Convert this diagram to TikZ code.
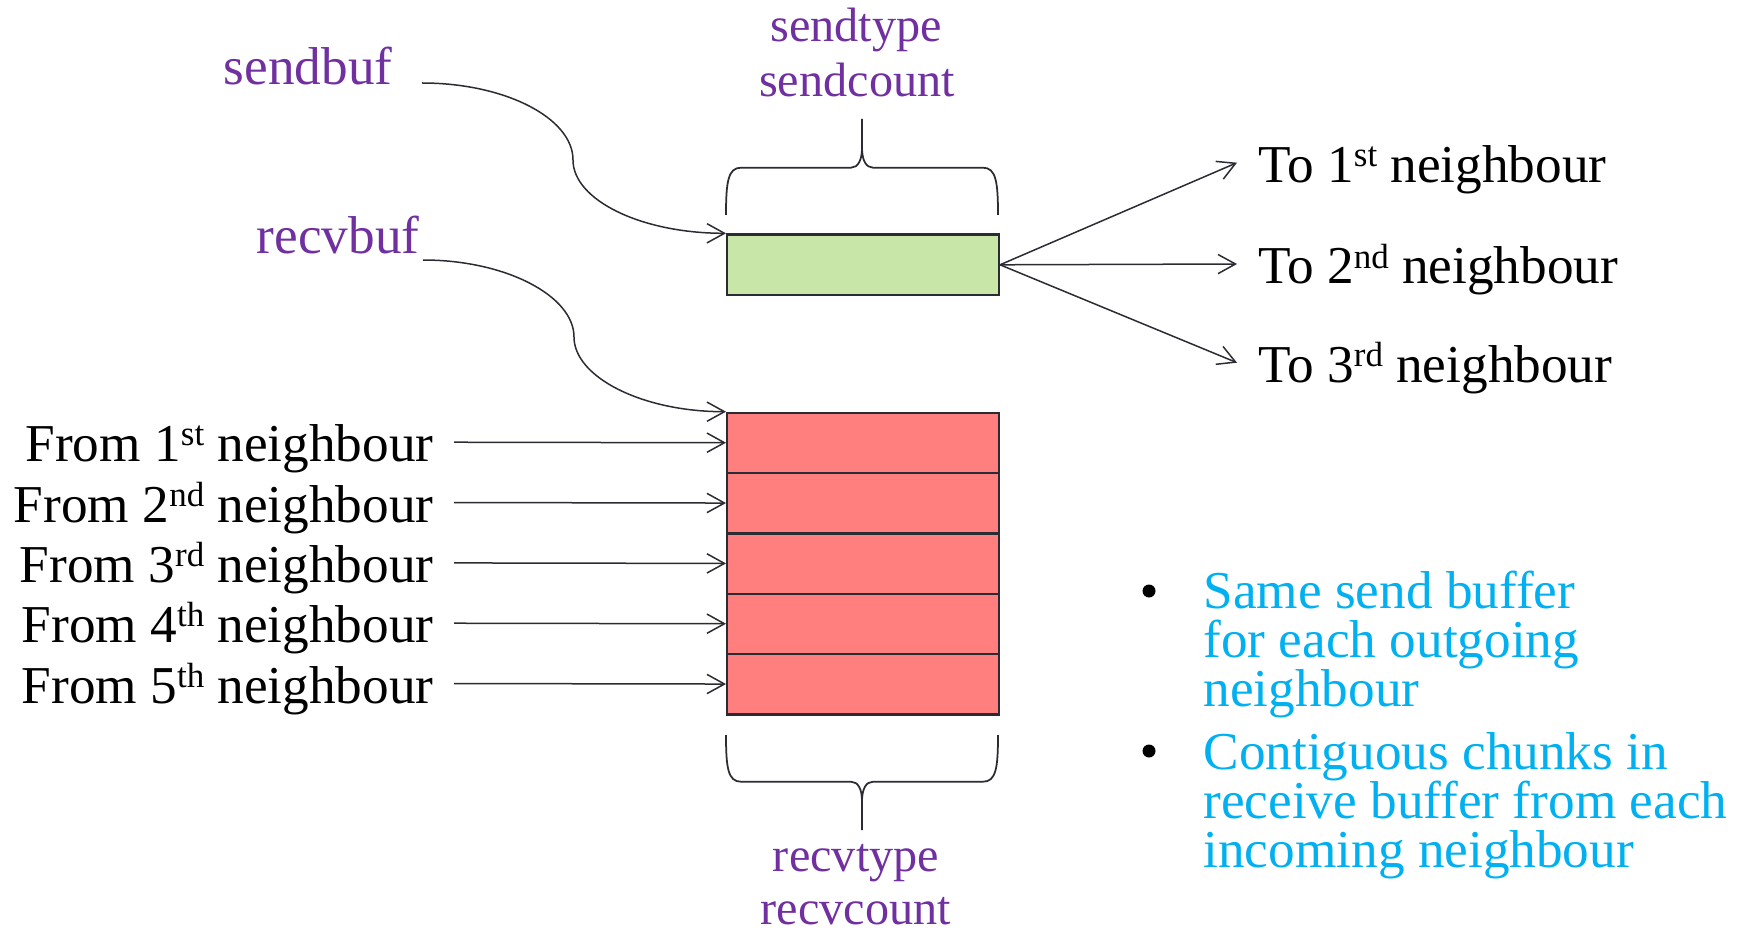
\documentclass[tikz,border=0pt]{standalone}
\usepackage{fontspec}
\setmainfont{Liberation Serif}
\usetikzlibrary{arrows.meta}
\definecolor{ink}{HTML}{2B2B33}
\definecolor{lblpurple}{HTML}{7030A0}
\definecolor{noteblue}{HTML}{00B0F0}
\definecolor{sendfill}{HTML}{C8E6A7}
\definecolor{recvfill}{HTML}{FF7F7F}
% ordinal suffix set as a raised, smaller superscript
\newcommand\supx[1]{\raisebox{0.3em}{\fontsize{14}{14}\selectfont #1}}

\begin{document}
\begin{tikzpicture}[x=0.4pt,y=-0.4pt,
  txt/.style={font=\fontsize{21.3}{22}\selectfont, inner sep=0pt},
  lbl/.style={txt, text height=18.9pt, text depth=2.9pt},
  param/.style={txt, font=\fontsize{19.3}{20}\selectfont, text=lblpurple, anchor=base},
  note/.style={txt, text=noteblue, anchor=base west},
  cell/.style={draw=ink, line width=0.9pt, fill=recvfill, anchor=north west,
    inner sep=0pt, minimum width=108.7pt, minimum height=24.13pt},
  arr/.style={draw=ink, line width=0.6pt, -{Straight Barb[length=7pt,width=7.7pt]}},
  brace/.style={draw=ink, line width=0.7pt},
  dot/.style={circle, fill=black, inner sep=0pt, minimum size=5.2pt}]
\useasboundingbox (0,0) rectangle (1744,932);

% send buffer
\node[cell, fill=sendfill, minimum height=24.3pt] (sbuf) at (726,233.3) {};

% receive buffer: one chunk per incoming neighbour
\node[cell] (r1) at (726,411.7) {};
\node[cell] (r2) at (726,472.0) {};
\node[cell] (r3) at (726,532.4) {};
\node[cell] (r4) at (726,592.7) {};
\node[cell] (r5) at (726,653.0) {};

% buffer names
\node[txt, text=lblpurple, anchor=base east] (sendbuf) at (393,84.5) {sendbuf};
\node[txt, text=lblpurple, anchor=base east] (recvbuf) at (420,253.5) {recvbuf};
\coordinate (sbfrom) at (422,83);
\coordinate (rbfrom) at (423,260);
\draw[arr] (sbfrom) .. controls (505,83) and (573,118) .. (573,160)
  .. controls (573,200) and (641,233.3) .. (sbuf.north west);
\draw[arr] (rbfrom) .. controls (506,260) and (574,296) .. (574,337)
  .. controls (574,377) and (642,411.7) .. (r1.north west);

% type / count braces
\node[param] (stype) at (856,42) {sendtype};
\node[param] (scount) at (857,97) {sendcount};
\draw[brace] (726,215) .. controls (726,182) and (728,167.7) .. (741,167.7) -- (851,167.7)
  .. controls (858,167.7) and (862,160) .. (862,148) -- (862,119);
\draw[brace] (998,215) .. controls (998,182) and (996,167.7) .. (983,167.7) -- (873,167.7)
  .. controls (866,167.7) and (862,160) .. (862,148);

\node[param] (rtype) at (856,871) {recvtype};
\node[param] (rcount) at (856,924) {recvcount};
\draw[brace] (726,735) .. controls (726,768) and (728,781.7) .. (741,781.7) -- (851,781.7)
  .. controls (858,781.7) and (862,789) .. (862,801) -- (862,830);
\draw[brace] (998,735) .. controls (998,768) and (996,781.7) .. (983,781.7) -- (873,781.7)
  .. controls (866,781.7) and (862,789) .. (862,801);

% outgoing neighbours
\node[lbl, anchor=west, inner xsep=8.4pt] (t1) at (1237,162.7) {To 1\supx{st} neighbour};
\node[lbl, anchor=west, inner xsep=8.4pt] (t2) at (1237,264.0) {To 2\supx{nd} neighbour};
\node[lbl, anchor=west, inner xsep=8.4pt] (t3) at (1237,362.7) {To 3\supx{rd} neighbour};
\draw[arr] (sbuf.east) -- (t1.west);
\draw[arr] (sbuf.east) -- (t2.west);
\draw[arr] (sbuf.east) -- (t3.west);

% incoming neighbours
\node[lbl, anchor=east, inner xsep=8pt] (f1) at (454,441.8) {From 1\supx{st} neighbour};
\node[lbl, anchor=east, inner xsep=8pt] (f2) at (454,502.1) {From 2\supx{nd} neighbour};
\node[lbl, anchor=east, inner xsep=8pt] (f3) at (454,562.5) {From 3\supx{rd} neighbour};
\node[lbl, anchor=east, inner xsep=8pt] (f4) at (454,622.8) {From 4\supx{th} neighbour};
\node[lbl, anchor=east, inner xsep=8pt] (f5) at (454,683.1) {From 5\supx{th} neighbour};
\draw[arr] (f1) -- (r1);
\draw[arr] (f2) -- (r2);
\draw[arr] (f3) -- (r3);
\draw[arr] (f4) -- (r4);
\draw[arr] (f5) -- (r5);

% notes
\node[dot] (b1) at (1149,591) {};
\node[note] (n1a) at (1203,608) {Same send buffer};
\node[note] (n1b) at (1203,657) {for each outgoing};
\node[note] (n1c) at (1203,706) {neighbour};
\node[dot] (b2) at (1149,751) {};
\node[note] (n2a) at (1203,769.5) {Contiguous chunks in};
\node[note] (n2b) at (1203,818.5) {receive buffer from each};
\node[note] (n2c) at (1203,867) {incoming neighbour};
\end{tikzpicture}
\end{document}
